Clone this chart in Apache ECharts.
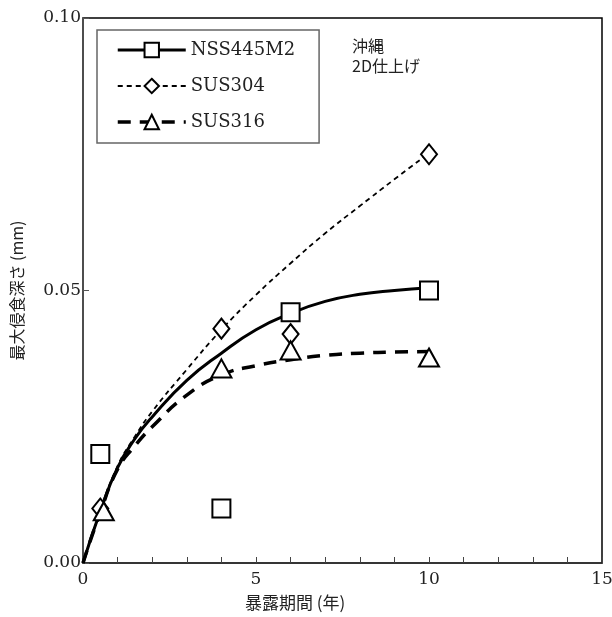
<!DOCTYPE html>
<html><head><meta charset="utf-8">
<script src="https://cdn.jsdelivr.net/npm/echarts@6/dist/echarts.min.js"></script>
<style>html,body{margin:0;padding:0;background:#fff}#c{width:612px;height:617px}</style>
</head><body><div id="c"></div>
<script>
// Measured points
const nssX = [0.5, 4, 6, 10];
const nssY = [0.020, 0.010, 0.046, 0.050];
const s304X = [0.5, 4, 6, 10];
const s304Y = [0.010, 0.043, 0.042, 0.075];
const s316X = [0.6, 4, 6, 10];
const s316Y = [0.0095, 0.0357, 0.039, 0.0377];
// Fitted curves
const curveX = [0, 0.5, 1, 1.5, 2, 3, 4, 5, 6, 7, 8, 9, 10];
const nssCurve = [0, 0.0095, 0.0175, 0.0228, 0.0268, 0.0335, 0.0385, 0.0428, 0.0458, 0.0480, 0.0493, 0.0500, 0.0505];
const s304Curve = [0, 0.0095, 0.0178, 0.0232, 0.0278, 0.0355, 0.0428, 0.0492, 0.0550, 0.0605, 0.0655, 0.0704, 0.0752];
const s316Curve = [0, 0.0093, 0.0172, 0.0215, 0.0250, 0.0308, 0.0345, 0.0362, 0.0373, 0.0381, 0.0385, 0.0387, 0.0388];
const names = ['NSS445M2', 'SUS304', 'SUS316'];
const xTicks = [0, 5, 10, 15];
const yTicks = [0.00, 0.05, 0.10];

const serif = '"DejaVu Serif", "Liberation Serif", "Noto Sans CJK JP", serif';
const zip = (a, b) => a.map((v, i) => [v, b[i]]);

const chart = echarts.init(document.getElementById('c'));
const symStyle = { color: '#000', borderColor: '#000', borderWidth: 2, opacity: 1 };
chart.setOption({
  animation: false,
  backgroundColor: '#fff',
  grid: { left: 83, right: 10, top: 18, bottom: 54, show: true, borderColor: '#000', borderWidth: 1.5,
    outerBoundsMode: 'none', containLabel: false },
  legend: {
    left: 97, top: 30, orient: 'vertical',
    data: names,
    itemWidth: 68, itemHeight: 18, itemGap: 18,
    borderColor: '#666', borderWidth: 1.5, borderRadius: 0,
    padding: [11, 24, 12, 19],
    lineStyle: { width: 'inherit', type: 'inherit' },
    itemStyle: { borderWidth: 2 },
    textStyle: { fontFamily: serif, fontSize: 18, color: '#222' }
  },
  graphic: [{
    type: 'text', left: 352, top: 36,
    style: { text: '沖縄\n2D仕上げ', font: '16px "Noto Sans CJK JP", serif', fill: '#222', lineHeight: 20 }
  }, {
    type: 'text', left: 245, top: 594,
    style: { text: '暴露期間 (年)', font: '17px "Noto Sans CJK JP", serif', fill: '#222' }
  }],
  xAxis: {
    type: 'value', min: 0, max: 15, interval: 1,
    axisLine: { lineStyle: { color: '#333', width: 1.5 } },
    axisTick: { inside: true, length: 6, lineStyle: { color: '#444' } },
    splitLine: { show: false },
    axisLabel: { fontFamily: serif, fontSize: 17, color: '#222', margin: 8,
      formatter: v => xTicks.indexOf(v) >= 0 ? String(v) : '' }
  },
  yAxis: {
    type: 'value', min: 0, max: 0.1, interval: 0.05,
    name: '最大侵食深さ (mm)', nameLocation: 'middle', nameGap: 58,
    nameTextStyle: { fontFamily: '"Noto Sans CJK JP", serif', fontSize: 16, color: '#222' },
    axisLine: { lineStyle: { color: '#555', width: 1.5 } },
    axisTick: { inside: true, length: 6, lineStyle: { color: '#555' } },
    splitLine: { show: false },
    axisLabel: { fontFamily: serif, fontSize: 17, color: '#222', margin: 2,
      formatter: v => yTicks.some(t => Math.abs(t - v) < 1e-9) ? v.toFixed(2) : '' }
  },
  series: [
    { name: names[0], type: 'line', smooth: 0.5, data: zip(curveX, nssCurve), showSymbol: false,
      symbol: 'emptyRect', symbolSize: 14, itemStyle: symStyle,
      lineStyle: { color: '#000', width: 3, type: 'solid' }, z: 3 },
    { name: names[1], type: 'line', smooth: 0.5, data: zip(curveX, s304Curve), showSymbol: false,
      symbol: 'emptyDiamond', symbolSize: 14, itemStyle: symStyle,
      lineStyle: { color: '#000', width: 1.8, type: [5, 4] }, z: 3 },
    { name: names[2], type: 'line', smooth: 0.5, data: zip(curveX, s316Curve), showSymbol: false,
      symbol: 'emptyTriangle', symbolSize: 14, itemStyle: symStyle,
      lineStyle: { color: '#000', width: 3.5, type: [13, 9] }, z: 3 },
    { name: names[0], type: 'scatter', data: zip(nssX, nssY), symbol: 'emptyRect', symbolSize: 18,
      itemStyle: symStyle, z: 4 },
    { name: names[1], type: 'scatter', data: zip(s304X, s304Y), symbol: 'emptyDiamond', symbolSize: [16, 20],
      itemStyle: symStyle, z: 4 },
    { name: names[2], type: 'scatter', data: zip(s316X, s316Y), symbol: 'emptyTriangle', symbolSize: [20, 18],
      itemStyle: symStyle, z: 4 }
  ]
});
</script></body></html>
